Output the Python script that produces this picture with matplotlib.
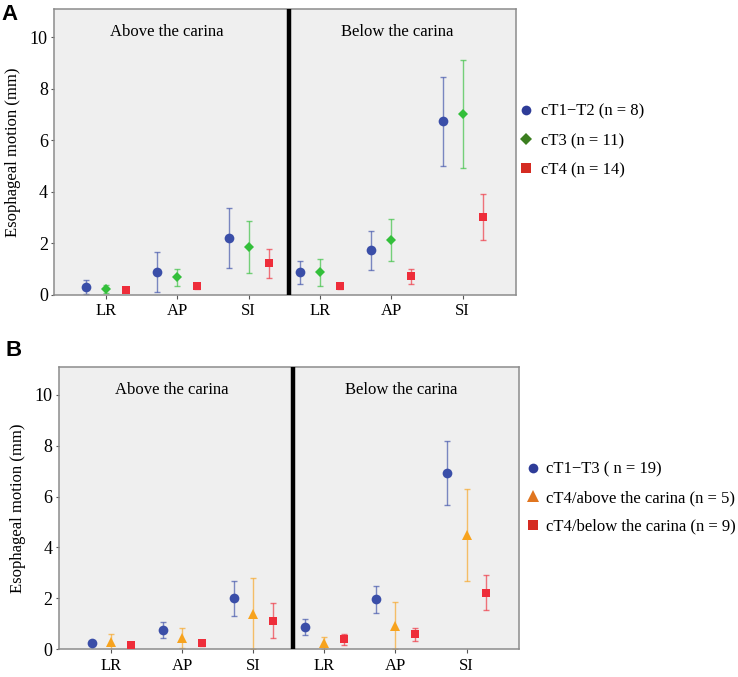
import numpy as np
import matplotlib
matplotlib.use("Agg")
import matplotlib.pyplot as plt
from matplotlib.lines import Line2D

plt.rcParams['font.family'] = ['Liberation Serif', 'DejaVu Serif']

# categories: above carina LR, AP, SI | below carina LR, AP, SI
cats = ['LR', 'AP', 'SI', 'LR', 'AP', 'SI']

# panel A
a_t12 = [0.30, 0.89, 2.20, 0.87, 1.72, 6.73]
a_t12_err = [0.26, 0.78, 1.16, 0.45, 0.76, 1.72]
a_t3 = [0.23, 0.67, 1.86, 0.87, 2.12, 7.03]
a_t3_err = [0.15, 0.32, 1.02, 0.53, 0.83, 2.09]
a_t4 = [0.18, 0.33, 1.22, 0.34, 0.72, 3.02]
a_t4_err = [0.07, 0.10, 0.56, 0.10, 0.29, 0.89]

# panel B
b_t13 = [0.26, 0.76, 2.00, 0.88, 1.96, 6.92]
b_t13_err = [0.04, 0.33, 0.69, 0.33, 0.54, 1.27]
b_above = [0.29, 0.45, 1.40, 0.24, 0.93, 4.50]
b_above_err = [0.30, 0.38, 1.40, 0.23, 0.91, 1.80]
b_below = [0.16, 0.24, 1.12, 0.40, 0.59, 2.22]
b_below_err = [0.07, 0.10, 0.69, 0.22, 0.25, 0.68]

BLUE = '#3a4ea8'
GREEN = '#33bf3a'
RED = '#ee2d3a'
ORANGE = '#f7a31e'


def draw_panel(ax, groups, divider):
    x = np.arange(6)
    for off, vals, errs, col, mk, ms in groups:
        ax.errorbar(x + off, vals, yerr=errs, fmt='none', ecolor=col,
                    elinewidth=1.0, capsize=2.5, capthick=1.0, alpha=0.65, zorder=2)
        ax.plot(x + off, vals, linestyle='none', marker=mk, markersize=ms,
                color=col, markeredgewidth=0, zorder=3)
    ax.axvline(divider, color='black', linewidth=3.2, zorder=4)
    ax.set_facecolor('#efefef')
    ax.set_ylim(0, 11.1)
    ax.set_yticks([0, 2, 4, 6, 8, 10])
    ax.set_xticks(x)
    ax.set_xticklabels(cats, fontsize=12)
    ax.tick_params(axis='y', labelsize=13, length=2.5, pad=2, color='#555555')
    ax.tick_params(axis='x', length=3, color='#555555', pad=3)
    for s in ax.spines.values():
        s.set_color('#8c8c8c')
        s.set_linewidth(1.1)
    ax.set_ylabel('Esophageal motion (mm)', fontsize=12, labelpad=6)
    ax.text(0.85, 10.2, 'Above the carina', ha='center', va='center', fontsize=12)
    ax.text(4.08, 10.2, 'Below the carina', ha='center', va='center', fontsize=12)


fig = plt.figure(figsize=(7.38, 6.77), dpi=100)

# panel A
axA = fig.add_axes([0.0732, 0.5647, 0.626, 0.422])
draw_panel(axA, [
    (-0.28, a_t12, a_t12_err, BLUE, 'o', 7),
    (0.0, a_t3, a_t3_err, GREEN, 'D', 5.5),
    (0.28, a_t4, a_t4_err, RED, 's', 5.5),
], 2.559)
axA.set_xlim(-0.729, 5.748)

handlesA = [
    Line2D([], [], linestyle='none', marker='o', markersize=7, color='#2e3c98', markeredgewidth=0),
    Line2D([], [], linestyle='none', marker='D', markersize=6.5, color='#3b7e1f', markeredgewidth=0),
    Line2D([], [], linestyle='none', marker='s', markersize=7, color='#d52b22', markeredgewidth=0),
]
labelsA = ['cT1\u2212T2 (n = 8)', 'cT3 (n = 11)', 'cT4 (n = 14)']
fig.legend(handlesA, labelsA, loc='center left', bbox_to_anchor=(0.693, 1 - 141 / 677),
           frameon=False, fontsize=12, labelspacing=0.8, handletextpad=0.4,
           handlelength=1.0, borderaxespad=0)

# panel B
axB = fig.add_axes([0.0795, 0.0409, 0.624, 0.4174])
draw_panel(axB, [
    (-0.27, b_t13, b_t13_err, BLUE, 'o', 7),
    (0.0, b_above, b_above_err, ORANGE, '^', 7),
    (0.28, b_below, b_below_err, RED, 's', 5.5),
], 2.56)
axB.set_xlim(-0.735, 5.74)

handlesB = [
    Line2D([], [], linestyle='none', marker='o', markersize=7, color='#2e3c98', markeredgewidth=0),
    Line2D([], [], linestyle='none', marker='^', markersize=8, color='#e0751f', markeredgewidth=0),
    Line2D([], [], linestyle='none', marker='s', markersize=7, color='#d52b22', markeredgewidth=0),
]
labelsB = ['cT1\u2212T3 ( n = 19)', 'cT4/above the carina (n = 5)', 'cT4/below the carina (n = 9)']
fig.legend(handlesB, labelsB, loc='center left', bbox_to_anchor=(0.702, 1 - 498 / 677),
           frameon=False, fontsize=12, labelspacing=0.75, handletextpad=0.25,
           handlelength=1.0, borderaxespad=0)

fig.text(0.002, 1 - 14 / 677, 'A', fontsize=16, fontweight='bold',
         family='Liberation Sans', va='center', ha='left')
fig.text(0.008, 1 - 350 / 677, 'B', fontsize=16, fontweight='bold',
         family='Liberation Sans', va='center', ha='left')

fig.savefig('out.png', dpi=100)
